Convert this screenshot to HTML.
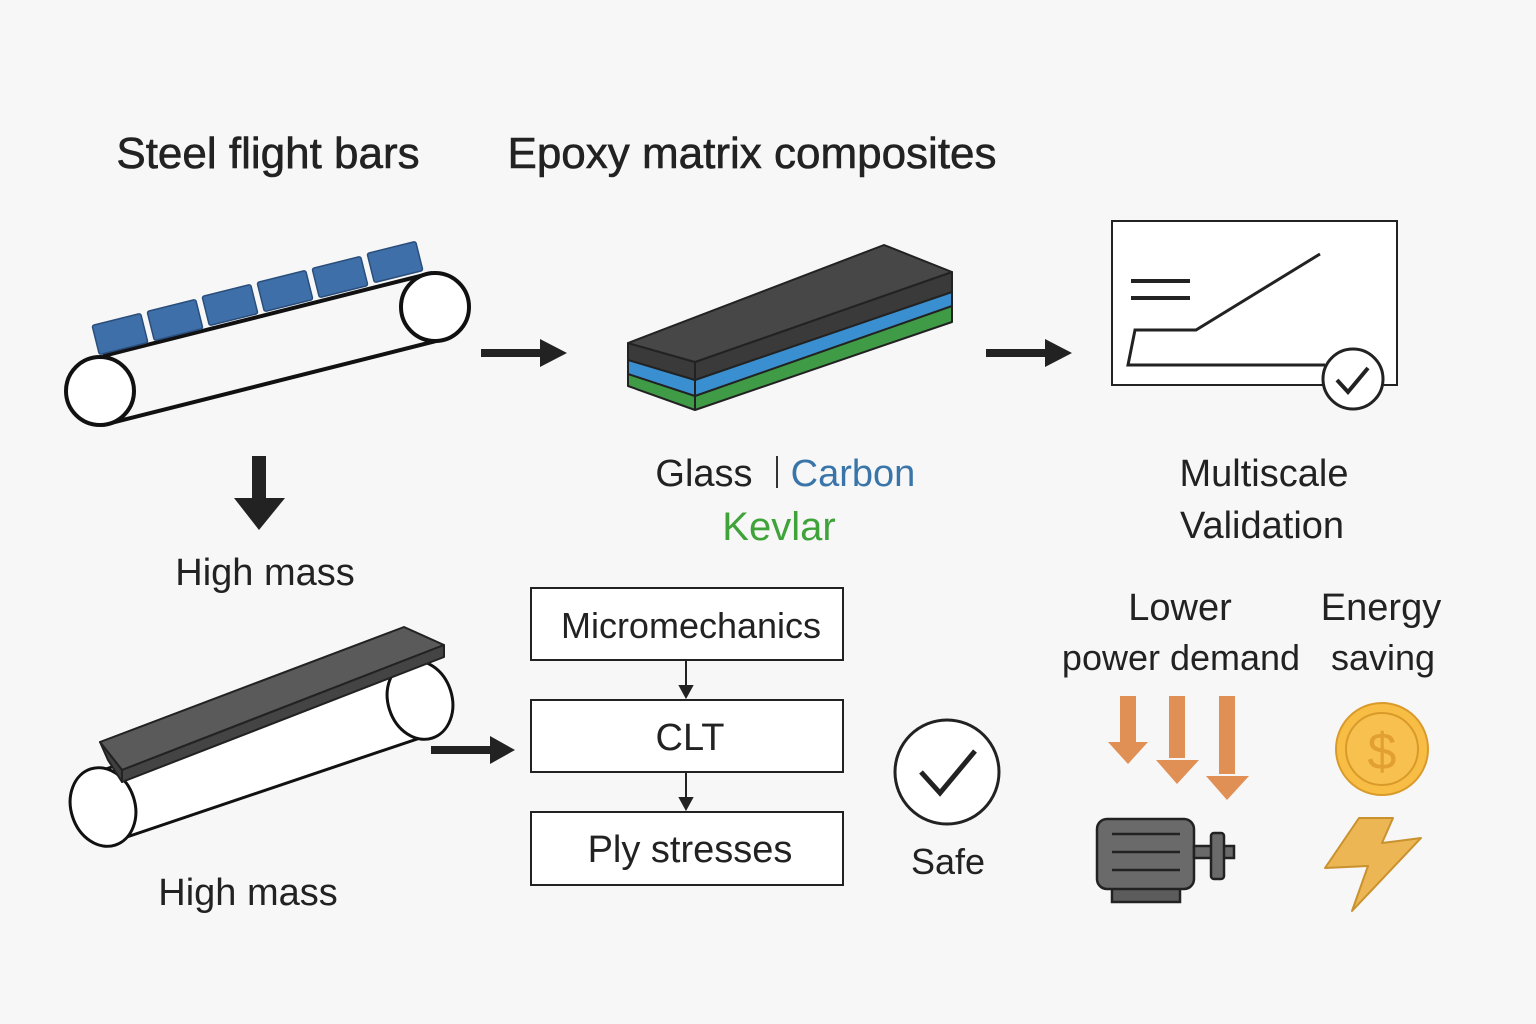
<!DOCTYPE html>
<html><head><meta charset="utf-8"><style>
html,body{margin:0;padding:0;background:#f7f7f7}
svg{display:block}
text{font-family:"Liberation Sans","DejaVu Sans",sans-serif;fill:#222}
</style></head><body>
<svg width="1536" height="1024" viewBox="0 0 1536 1024" xmlns="http://www.w3.org/2000/svg">
<rect width="1536" height="1024" fill="#f7f7f7"/>
<text x="268" y="168" font-size="44" text-anchor="middle" style="stroke:#222;stroke-width:0.6">Steel flight bars</text>
<text x="752" y="168" font-size="44" text-anchor="middle" style="stroke:#222;stroke-width:0.6">Epoxy matrix composites</text>

<!-- conveyor -->
<g stroke="#111" stroke-width="4" fill="#fff">
<line x1="103" y1="356" x2="432" y2="273"/>
<line x1="103" y1="425" x2="440" y2="340"/>
<circle cx="100" cy="391" r="34"/>
<circle cx="435" cy="307" r="34"/>
</g>
<g fill="#3f6fa8" stroke="#2a4e7c" stroke-width="1.5">
<g transform="translate(120,334) rotate(-14)"><rect x="-25" y="-15" width="50" height="30" rx="2"/></g>
<g transform="translate(175,320) rotate(-14)"><rect x="-25" y="-15" width="50" height="30" rx="2"/></g>
<g transform="translate(230,305) rotate(-14)"><rect x="-25" y="-15" width="50" height="30" rx="2"/></g>
<g transform="translate(285,291) rotate(-14)"><rect x="-25" y="-15" width="50" height="30" rx="2"/></g>
<g transform="translate(340,277) rotate(-14)"><rect x="-25" y="-15" width="50" height="30" rx="2"/></g>
<g transform="translate(395,262) rotate(-14)"><rect x="-25" y="-15" width="50" height="30" rx="2"/></g>
</g>

<!-- arrows -->
<g fill="#222">
<rect x="481" y="349" width="60" height="8"/><polygon points="540,339 567,353 540,367"/>
<rect x="986" y="349" width="60" height="8"/><polygon points="1045,339 1072,353 1045,367"/>
<rect x="431" y="746" width="60" height="8"/><polygon points="490,736 515,750 490,764"/>
<rect x="252" y="456" width="14" height="44"/><polygon points="234,498 285,498 259,530"/>
</g>

<!-- composite slab -->
<g stroke="#222" stroke-width="2" stroke-linejoin="round">
<polygon points="628,365 695,388 952,298 952,322 695,410 628,386" fill="#3f9b45"/>
<polygon points="628,355 695,376 952,286 952,306 695,396 628,374" fill="#3a8fd0"/>
<polygon points="628,343 695,362 952,272 952,292 695,380 628,360" fill="#3a3a3a"/>
<polygon points="628,343 884,245 952,272 695,362" fill="#474747"/>
<line x1="695" y1="362" x2="695" y2="410"/>
</g>

<text x="704" y="486" font-size="38" text-anchor="middle">Glass</text>
<rect x="776" y="456" width="2" height="32" fill="#333"/>
<text x="853" y="486" font-size="38" text-anchor="middle" style="fill:#3a75aa">Carbon</text>
<text x="779" y="540" font-size="40" text-anchor="middle" style="fill:#3fa33a">Kevlar</text>

<!-- validation -->
<rect x="1112" y="221" width="285" height="164" fill="#fff" stroke="#222" stroke-width="2"/>
<g stroke="#222" stroke-width="4" fill="none">
<line x1="1131" y1="281" x2="1190" y2="281"/><line x1="1131" y1="298" x2="1190" y2="298"/>
<polyline points="1325,365 1128,365 1135,330 1196,330 1320,254" stroke-width="3"/>
</g>
<circle cx="1353" cy="379" r="30" fill="#fff" stroke="#222" stroke-width="3"/>
<polyline points="1337,380 1348,392 1368,368" fill="none" stroke="#222" stroke-width="4"/>
<text x="1264" y="486" font-size="38" text-anchor="middle">Multiscale</text>
<text x="1262" y="538" font-size="38" text-anchor="middle">Validation</text>

<text x="265" y="585" font-size="38" text-anchor="middle">High mass</text>

<!-- lower roller -->
<g stroke="#111" stroke-width="3" fill="#fff">
<polygon points="103,770 420,661 420,738 103,845"/>
<ellipse cx="420" cy="700" rx="32" ry="40" transform="rotate(-18 420 700)"/>
<ellipse cx="103" cy="807" rx="32" ry="40" transform="rotate(-18 103 807)"/>
</g>
<g stroke="#222" stroke-width="2" stroke-linejoin="round">
<polygon points="100,742 404,627 444,645 122,770" fill="#5a5a5a"/>
<polygon points="100,742 122,770 122,782 108,760" fill="#3f3f3f"/>
<polygon points="122,770 444,645 444,657 122,782" fill="#444"/>
</g>
<text x="248" y="905" font-size="38" text-anchor="middle">High mass</text>

<!-- boxes -->
<g fill="#fff" stroke="#222" stroke-width="2">
<rect x="531" y="588" width="312" height="72"/>
<rect x="531" y="700" width="312" height="72"/>
<rect x="531" y="812" width="312" height="73"/>
</g>
<text x="691" y="638" font-size="36" text-anchor="middle">Micromechanics</text>
<text x="690" y="750" font-size="38" text-anchor="middle">CLT</text>
<text x="690" y="862" font-size="38" text-anchor="middle">Ply stresses</text>
<g stroke="#222" stroke-width="2" fill="#222">
<line x1="686" y1="660" x2="686" y2="690"/><polygon points="680,686 692,686 686,697"/>
<line x1="686" y1="772" x2="686" y2="802"/><polygon points="680,798 692,798 686,809"/>
</g>

<circle cx="947" cy="772" r="52" fill="#fff" stroke="#222" stroke-width="3"/>
<polyline points="921,772 940,793 975,751" fill="none" stroke="#222" stroke-width="5"/>
<text x="948" y="874" font-size="36" text-anchor="middle">Safe</text>

<text x="1180" y="620" font-size="38" text-anchor="middle">Lower</text>
<text x="1181" y="670" font-size="36" text-anchor="middle">power demand</text>
<text x="1381" y="620" font-size="38" text-anchor="middle">Energy</text>
<text x="1383" y="670" font-size="36" text-anchor="middle">saving</text>

<g fill="#e08f55">
<rect x="1120" y="696" width="16" height="46"/><polygon points="1108,742 1148,742 1128,764"/>
<rect x="1169" y="696" width="16" height="62"/><polygon points="1156,760 1199,760 1177,784"/>
<rect x="1219" y="696" width="16" height="78"/><polygon points="1206,776 1249,776 1227,800"/>
</g>
<!-- motor -->
<g stroke="#222" stroke-width="2.5">
<rect x="1112" y="880" width="68" height="22" fill="#5c5c5c"/>
<rect x="1097" y="819" width="97" height="70" rx="10" fill="#6a6a6a"/>
<rect x="1194" y="846" width="40" height="12" fill="#6a6a6a"/>
<rect x="1211" y="833" width="13" height="46" rx="3" fill="#6a6a6a"/>
<line x1="1112" y1="834" x2="1180" y2="834"/><line x1="1112" y1="852" x2="1180" y2="852"/><line x1="1112" y1="870" x2="1180" y2="870"/>
</g>
<circle cx="1382" cy="749" r="46" fill="#f7bd45" stroke="#d99a2a" stroke-width="2"/>
<circle cx="1382" cy="749" r="36" fill="#f8c04e" stroke="#d99a2a" stroke-width="2"/>
<text x="1382" y="769" font-size="52" text-anchor="middle" style="fill:#e2a033">$</text>
<polygon points="1359,818 1393,818 1382,843 1421,838 1352,911 1368,866 1325,868" fill="#ebb653" stroke="#c9922e" stroke-width="2" stroke-linejoin="round"/>
</svg>
</body></html>
